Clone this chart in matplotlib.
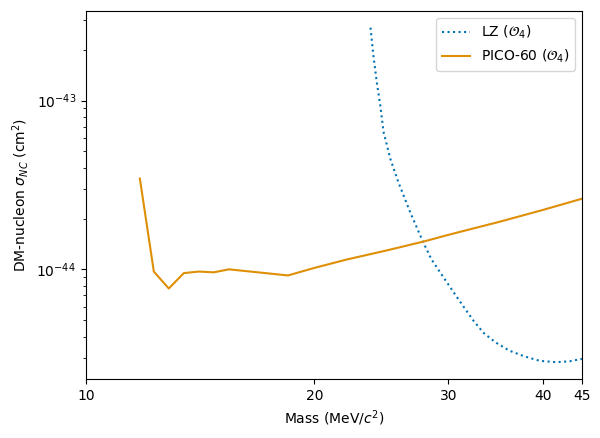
import matplotlib
matplotlib.use('Agg')
import matplotlib.pyplot as plt
from matplotlib.ticker import NullLocator

# LZ (O4) limit
lz_mass = [23.7, 23.91, 24.16, 24.42, 24.66, 25.17, 25.79, 26.73, 27.8, 28.5, 29.27,
           30.5, 31.6, 32.4, 33.4, 34.6, 36.1, 37.8, 39.6, 41.6, 43.3, 45.0]
lz_sigma = [2.7e-43, 1.85e-43, 1.28e-43, 9.3e-44, 6.5e-44, 4.52e-44, 3.28e-44, 2.18e-44,
            1.45e-44, 1.15e-44, 9.6e-45, 7.3e-45, 5.8e-45, 4.95e-45, 4.2e-45,
            3.7e-45, 3.3e-45, 3.05e-45, 2.87e-45, 2.82e-45, 2.85e-45, 2.95e-45]

# PICO-60 (O4) limit
pico_mass = [11.78, 12.29, 12.86, 13.46, 14.09, 14.74, 15.43, 18.46,
             20.0, 22.0, 25.0, 28.0, 30.0, 35.0, 40.0, 45.0]
pico_sigma = [3.45e-44, 9.7e-45, 7.7e-45, 9.5e-45, 9.7e-45, 9.6e-45, 1.0e-44, 9.2e-45,
              1.02e-44, 1.14e-44, 1.3e-44, 1.47e-44, 1.6e-44, 1.91e-44, 2.25e-44, 2.62e-44]

xticks = [10, 20, 30, 40, 45]

fig, ax = plt.subplots(figsize=(6, 4.38), dpi=100)
fig.subplots_adjust(left=0.143, right=0.97, bottom=0.135, top=0.975)

ax.plot(lz_mass, lz_sigma, ':', color='#0173b2', lw=1.5, label=r'LZ ($\mathcal{O}_4$)')
ax.plot(pico_mass, pico_sigma, '-', color='#de8f05', lw=1.5, label=r'PICO-60 ($\mathcal{O}_4$)')

ax.set_xscale('log')
ax.set_yscale('log')
ax.set_xlim(10, 45)
ax.set_xticks(xticks)
ax.set_xticklabels([str(t) for t in xticks])
ax.xaxis.set_minor_locator(NullLocator())

ax.set_xlabel(r'Mass (MeV/$c^2$)')
ax.set_ylabel(r'DM-nucleon $\sigma_{NC}$ (cm$^2$)')
ax.legend(loc='upper right')

plt.savefig('out.png')
